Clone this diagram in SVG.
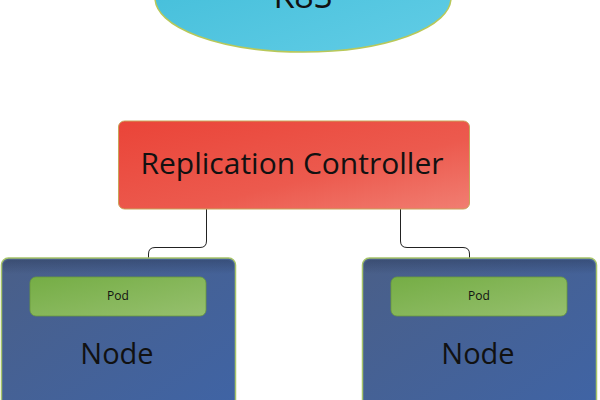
<svg xmlns="http://www.w3.org/2000/svg" width="600" height="400" viewBox="0 0 600 400">
<defs>
<linearGradient id="gEll" x1="0" y1="0" x2="1" y2="1">
<stop offset="0" stop-color="#3fbcd8"/>
<stop offset="1" stop-color="#62cde6"/>
</linearGradient>
<linearGradient id="gRed" x1="0" y1="0" x2="1" y2="1">
<stop offset="0" stop-color="#ea4438"/>
<stop offset="0.6" stop-color="#ec5a4e"/>
<stop offset="1" stop-color="#f17e72"/>
</linearGradient>
<linearGradient id="gBlue" x1="0" y1="0" x2="1" y2="1">
<stop offset="0" stop-color="#4a5f88"/>
<stop offset="1" stop-color="#3f64a6"/>
</linearGradient>
<linearGradient id="gPod" x1="0" y1="0" x2="1" y2="1">
<stop offset="0" stop-color="#75ad45"/>
<stop offset="1" stop-color="#96c06e"/>
</linearGradient>
<linearGradient id="gShade" x1="0" y1="0" x2="0" y2="1">
<stop offset="0" stop-color="#2a3a5a" stop-opacity="0.45"/>
<stop offset="1" stop-color="#2a3a5a" stop-opacity="0"/>
</linearGradient>
</defs>
<style>
.lbl{font-family:"Open Sans","Liberation Sans",sans-serif;fill:#111;text-anchor:middle}
.conn{fill:none;stroke:#222;stroke-width:1}
.node{fill:url(#gBlue);stroke:#a6c46a;stroke-width:1.5}
.pod{fill:url(#gPod);stroke:#6a9a3e;stroke-width:0.8}
</style>
<g id="k8s">
<ellipse cx="303" cy="-2" rx="148" ry="54" fill="url(#gEll)" stroke="#b8c85a" stroke-width="1.5"/>
<text class="lbl" x="303" y="8" font-size="34">K8S</text>
</g>
<g id="connectors">
<path class="conn" d="M206.5,209 V241 Q206.5,247.5 200,247.5 H155 Q148.5,247.5 148.5,254 V258"/>
<path class="conn" d="M400.5,209 V241 Q400.5,247.5 407,247.5 H463 Q469.5,247.5 469.5,254 V258"/>
</g>
<g id="rc">
<rect x="118.5" y="121" width="351" height="88" rx="6" fill="url(#gRed)" stroke="#c9a45a" stroke-width="1"/>
<text class="lbl" x="292" y="174" font-size="30">Replication Controller</text>
</g>
<g id="node1">
<rect class="node" x="1.5" y="258" width="234" height="160" rx="7"/>
<rect x="3" y="260" width="231" height="14" rx="6" fill="url(#gShade)"/>
<rect class="pod" x="30" y="277" width="176" height="39" rx="6"/>
<text class="lbl" x="118" y="300" font-size="12">Pod</text>
<text class="lbl" x="117" y="364" font-size="29">Node</text>
</g>
<g id="node2">
<rect class="node" x="362.5" y="258" width="234" height="160" rx="7"/>
<rect x="364" y="260" width="231" height="14" rx="6" fill="url(#gShade)"/>
<rect class="pod" x="391" y="277" width="176" height="39" rx="6"/>
<text class="lbl" x="479" y="300" font-size="12">Pod</text>
<text class="lbl" x="478" y="364" font-size="29">Node</text>
</g>
</svg>
